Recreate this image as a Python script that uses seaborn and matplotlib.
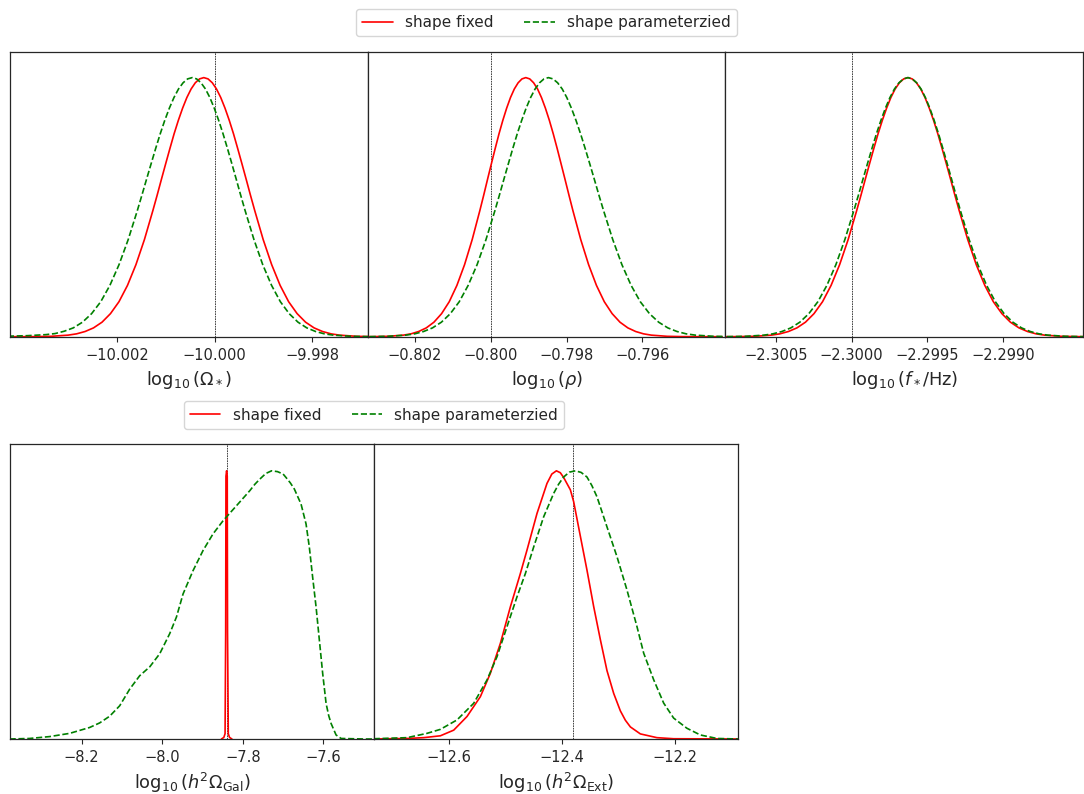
import matplotlib
matplotlib.use('Agg')
import matplotlib.pyplot as plt
import seaborn as sns

# ---- data (1D marginals, normalised to peak = 1) ----
omega_x_fixed = [-10.004564, -10.004043, -10.003696, -10.003349, -10.003002, -10.002828,
                 -10.002654, -10.002481, -10.002307, -10.002134, -10.001960, -10.001786,
                 -10.001613, -10.001439, -10.001266, -10.001179, -10.001092, -10.001005,
                 -10.000918, -10.000832, -10.000745, -10.000658, -10.000571, -10.000484,
                 -10.000398, -10.000311, -10.000224, -10.000137, -10.000050, -9.999964,
                 -9.999877, -9.999790, -9.999703, -9.999616, -9.999530, -9.999443,
                 -9.999356, -9.999269, -9.999182, -9.999009, -9.998835, -9.998662,
                 -9.998488, -9.998314, -9.998141, -9.997967, -9.997794, -9.997620,
                 -9.997446, -9.997099, -9.996752, -9.996405, -9.995884]
omega_fixed = [0.0, 0.0001, 0.0003, 0.0015, 0.006, 0.011, 0.020, 0.034, 0.056, 0.089,
               0.135, 0.198, 0.278, 0.375, 0.487, 0.546, 0.607, 0.667, 0.726, 0.783,
               0.835, 0.882, 0.923, 0.956, 0.980, 0.995, 1.0, 0.995, 0.980, 0.956,
               0.923, 0.882, 0.835, 0.783, 0.726, 0.667, 0.607, 0.546, 0.487, 0.375,
               0.278, 0.198, 0.135, 0.089, 0.056, 0.034, 0.020, 0.011, 0.006, 0.0015,
               0.0003, 0.0001, 0.0]
omega_x_param = [-10.005141, -10.004579, -10.004205, -10.003831, -10.003456, -10.003269,
                 -10.003082, -10.002895, -10.002707, -10.002520, -10.002333, -10.002146,
                 -10.001959, -10.001771, -10.001584, -10.001491, -10.001397, -10.001303,
                 -10.001210, -10.001116, -10.001023, -10.000929, -10.000835, -10.000742,
                 -10.000648, -10.000555, -10.000461, -10.000371, -10.000281, -10.000190,
                 -10.000100, -10.000010, -9.999920, -9.999830, -9.999739, -9.999649,
                 -9.999559, -9.999469, -9.999379, -9.999198, -9.999018, -9.998837,
                 -9.998657, -9.998477, -9.998296, -9.998116, -9.997935, -9.997755,
                 -9.997575, -9.997214, -9.996853, -9.996492, -9.995951]
omega_param = [0.001, 0.001, 0.002, 0.004, 0.008, 0.012, 0.021, 0.034, 0.056, 0.089,
               0.135, 0.198, 0.278, 0.375, 0.487, 0.546, 0.607, 0.667, 0.726, 0.783,
               0.835, 0.882, 0.923, 0.956, 0.980, 0.995, 1.0, 0.995, 0.980, 0.956,
               0.923, 0.882, 0.835, 0.783, 0.726, 0.667, 0.607, 0.546, 0.487, 0.375,
               0.278, 0.198, 0.135, 0.089, 0.056, 0.034, 0.020, 0.011, 0.006, 0.0015,
               0.0003, 0.0001, 0.0]

rho_x_fixed = [-0.804128, -0.803522, -0.803118, -0.802714, -0.802310, -0.802108,
               -0.801906, -0.801704, -0.801502, -0.801300, -0.801098, -0.800896,
               -0.800694, -0.800492, -0.800290, -0.800189, -0.800088, -0.799987,
               -0.799886, -0.799785, -0.799684, -0.799583, -0.799482, -0.799381,
               -0.799280, -0.799179, -0.799078, -0.798974, -0.798871, -0.798767,
               -0.798664, -0.798560, -0.798456, -0.798353, -0.798249, -0.798146,
               -0.798042, -0.797938, -0.797835, -0.797628, -0.797420, -0.797213,
               -0.797006, -0.796799, -0.796592, -0.796384, -0.796177, -0.795970,
               -0.795763, -0.795348, -0.794934, -0.794520, -0.793898]
rho_fixed = [0.0, 0.0001, 0.0003, 0.0015, 0.006, 0.011, 0.020, 0.034, 0.056, 0.089,
             0.135, 0.198, 0.278, 0.375, 0.487, 0.546, 0.607, 0.667, 0.726, 0.783,
             0.835, 0.882, 0.923, 0.956, 0.980, 0.995, 1.0, 0.995, 0.980, 0.956,
             0.923, 0.882, 0.835, 0.783, 0.726, 0.667, 0.607, 0.546, 0.487, 0.375,
             0.278, 0.198, 0.135, 0.089, 0.056, 0.034, 0.020, 0.011, 0.006, 0.0015,
             0.0003, 0.0001, 0.0]
rho_x_param = [-0.804365, -0.803659, -0.803188, -0.802717, -0.802246, -0.802011,
               -0.801776, -0.801540, -0.801305, -0.801069, -0.800834, -0.800599,
               -0.800363, -0.800128, -0.799892, -0.799775, -0.799657, -0.799539,
               -0.799422, -0.799304, -0.799186, -0.799069, -0.798951, -0.798833,
               -0.798715, -0.798598, -0.798480, -0.798359, -0.798238, -0.798116,
               -0.797995, -0.797874, -0.797753, -0.797632, -0.797510, -0.797389,
               -0.797268, -0.797147, -0.797026, -0.796783, -0.796541, -0.796298,
               -0.796056, -0.795814, -0.795571, -0.795329, -0.795086, -0.794844,
               -0.794602, -0.794117, -0.793632, -0.793147, -0.792420]
rho_param = [0.0, 0.0001, 0.0003, 0.0015, 0.006, 0.011, 0.020, 0.034, 0.056, 0.089,
             0.135, 0.198, 0.278, 0.375, 0.487, 0.546, 0.607, 0.667, 0.726, 0.783,
             0.835, 0.882, 0.923, 0.956, 0.980, 0.995, 1.0, 0.995, 0.980, 0.956,
             0.923, 0.882, 0.835, 0.783, 0.726, 0.667, 0.607, 0.546, 0.487, 0.375,
             0.278, 0.198, 0.135, 0.089, 0.056, 0.034, 0.020, 0.011, 0.006, 0.0015,
             0.0003, 0.0001, 0.0]

fstar_x_fixed = [-2.3010355, -2.3008666, -2.300754, -2.3006414, -2.3005288, -2.3004725,
                 -2.3004162, -2.3003599, -2.3003036, -2.3002473, -2.300191, -2.3001347,
                 -2.3000784, -2.3000221, -2.2999658, -2.2999377, -2.2999095, -2.2998814,
                 -2.2998532, -2.2998251, -2.2997969, -2.2997688, -2.2997406, -2.2997125,
                 -2.2996843, -2.2996562, -2.299628, -2.2995999, -2.2995717, -2.2995436,
                 -2.2995154, -2.2994873, -2.2994591, -2.299431, -2.2994028, -2.2993747,
                 -2.2993465, -2.2993184, -2.2992902, -2.2992339, -2.2991776, -2.2991213,
                 -2.299065, -2.2990087, -2.2989524, -2.2988961, -2.2988398, -2.2987835,
                 -2.2987272, -2.2986146, -2.298502, -2.2983894, -2.2982205]
fstar_fixed = [0.0, 0.0001, 0.0003, 0.0015, 0.006, 0.011, 0.020, 0.034, 0.056, 0.089,
               0.135, 0.198, 0.278, 0.375, 0.487, 0.546, 0.607, 0.667, 0.726, 0.783,
               0.835, 0.882, 0.923, 0.956, 0.980, 0.995, 1.0, 0.995, 0.980, 0.956,
               0.923, 0.882, 0.835, 0.783, 0.726, 0.667, 0.607, 0.546, 0.487, 0.375,
               0.278, 0.198, 0.135, 0.089, 0.056, 0.034, 0.020, 0.011, 0.006, 0.0015,
               0.0003, 0.0001, 0.0]
fstar_x_param = [-2.3011125, -2.3009344, -2.3008156, -2.3006968, -2.3005781, -2.3005187,
                 -2.3004593, -2.3003999, -2.3003406, -2.3002812, -2.3002218, -2.3001624,
                 -2.300103, -2.3000437, -2.2999843, -2.2999546, -2.2999249, -2.2998952,
                 -2.2998655, -2.2998358, -2.2998061, -2.2997765, -2.2997468, -2.2997171,
                 -2.2996874, -2.2996577, -2.299628, -2.2995992, -2.2995704, -2.2995416,
                 -2.2995128, -2.2994839, -2.2994551, -2.2994263, -2.2993975, -2.2993687,
                 -2.2993399, -2.2993111, -2.2992823, -2.2992247, -2.299167, -2.2991094,
                 -2.2990518, -2.2989942, -2.2989366, -2.2988789, -2.2988213, -2.2987637,
                 -2.2987061, -2.2985908, -2.2984756, -2.2983604, -2.2981875]
fstar_param = [0.0, 0.0001, 0.0003, 0.0015, 0.006, 0.011, 0.020, 0.034, 0.056, 0.089,
               0.135, 0.198, 0.278, 0.375, 0.487, 0.546, 0.607, 0.667, 0.726, 0.783,
               0.835, 0.882, 0.923, 0.956, 0.980, 0.995, 1.0, 0.995, 0.980, 0.956,
               0.923, 0.882, 0.835, 0.783, 0.726, 0.667, 0.607, 0.546, 0.487, 0.375,
               0.278, 0.198, 0.135, 0.089, 0.056, 0.034, 0.020, 0.011, 0.006, 0.0015,
               0.0003, 0.0001, 0.0]

gal_x_fixed = [-7.853, -7.847, -7.844, -7.8425, -7.8418, -7.8402, -7.8386, -7.8379,
               -7.836, -7.833, -7.827]
gal_fixed = [0.0, 0.006, 0.02, 0.4, 0.98, 1.0, 0.98, 0.4, 0.02, 0.006, 0.0]
gal_x_param = [-8.3786, -8.3289, -8.2793, -8.2296, -8.1799, -8.1551, -8.1303, -8.1054,
               -8.0806, -8.0558, -8.0309, -8.0061, -7.9813, -7.9646, -7.9482, -7.9234,
               -7.8986, -7.8738, -7.8489, -7.8156, -7.7826, -7.7700, -7.7578, -7.7430,
               -7.7287, -7.7140, -7.7000, -7.6927, -7.6821, -7.6721, -7.6555, -7.6431,
               -7.6349, -7.6267, -7.6182, -7.6100, -7.6018, -7.5934, -7.5870, -7.5810,
               -7.5686, -7.5561, -7.4983, -7.4722]
gal_param = [0.0, 0.002, 0.009, 0.021, 0.043, 0.060, 0.085, 0.124, 0.186, 0.236,
             0.269, 0.318, 0.393, 0.455, 0.541, 0.628, 0.703, 0.765, 0.814, 0.870,
             0.926, 0.950, 0.969, 0.990, 1.000, 0.997, 0.988, 0.975, 0.955, 0.932,
             0.876, 0.802, 0.715, 0.603, 0.492, 0.368, 0.244, 0.133, 0.088, 0.058,
             0.015, 0.002, 0.0, 0.0]

ext_x_fixed = [-12.7339, -12.6748, -12.6452, -12.6156, -12.5920, -12.5684, -12.5447,
               -12.5270, -12.5092, -12.4915, -12.4738, -12.4621, -12.4443, -12.4266,
               -12.4180, -12.4099, -12.4030, -12.3970, -12.3851, -12.3793, -12.3674,
               -12.3557, -12.3438, -12.3319, -12.3202, -12.3083, -12.2965, -12.2876,
               -12.2787, -12.2610, -12.2316, -12.2020, -12.0867]
ext_fixed = [0.0, 0.002, 0.005, 0.012, 0.033, 0.084, 0.158, 0.245, 0.357, 0.493,
             0.617, 0.704, 0.841, 0.953, 0.988, 1.000, 0.993, 0.975, 0.929, 0.885,
             0.756, 0.630, 0.494, 0.370, 0.255, 0.170, 0.105, 0.070, 0.045, 0.019,
             0.005, 0.001, 0.0]
ext_x_param = [-12.7339, -12.6748, -12.6394, -12.6156, -12.5862, -12.5566, -12.5330,
               -12.5152, -12.4975, -12.4798, -12.4649, -12.4502, -12.4324, -12.4147,
               -12.4060, -12.3970, -12.3870, -12.3762, -12.3660, -12.3557, -12.3470,
               -12.3379, -12.3202, -12.3025, -12.2848, -12.2670, -12.2551, -12.2374,
               -12.2197, -12.2020, -12.1784, -12.1546, -12.1252, -12.0867]
ext_param = [0.001, 0.005, 0.021, 0.036, 0.071, 0.133, 0.220, 0.307, 0.419, 0.530,
             0.617, 0.716, 0.829, 0.916, 0.950, 0.977, 0.995, 1.000, 0.994, 0.977,
             0.945, 0.903, 0.791, 0.680, 0.556, 0.419, 0.320, 0.221, 0.134, 0.078,
             0.040, 0.015, 0.002, 0.0]

labels = [r'$\log_{10}(\Omega_*)$', r'$\log_{10}(\rho)$', r'$\log_{10}(f_*/{\rm Hz})$',
          r'$\log_{10}(h^2\Omega_{\rm Gal})$', r'$\log_{10}(h^2\Omega_{\rm Ext})$']
truths = [-10.0, -0.8, -2.3, -7.84, -12.38]
xlims = [(-10.00419, -9.99687), (-0.80325, -0.79381), (-2.300832, -2.298474),
         (-8.3776, -7.474), (-12.733, -12.0875)]
ticks = [[-10.002, -10.000, -9.998], [-0.802, -0.800, -0.798, -0.796],
         [-2.3005, -2.3000, -2.2995, -2.2990], [-8.2, -8.0, -7.8, -7.6],
         [-12.6, -12.4, -12.2]]
tick_fmt = ['{:.3f}', '{:.3f}', '{:.4f}', '{:.1f}', '{:.1f}']

curves = [
    (omega_x_fixed, omega_fixed, omega_x_param, omega_param),
    (rho_x_fixed, rho_fixed, rho_x_param, rho_param),
    (fstar_x_fixed, fstar_fixed, fstar_x_param, fstar_param),
    (gal_x_fixed, gal_fixed, gal_x_param, gal_param),
    (ext_x_fixed, ext_fixed, ext_x_param, ext_param),
]

sns.set_style('ticks')
plt.rcParams['font.family'] = 'DejaVu Sans'
plt.rcParams['mathtext.fontset'] = 'dejavusans'

fig = plt.figure(figsize=(10.84, 7.94), dpi=100)
W, H = 1084.0, 794.0
# panel boxes in pixels: left, top, width, height
boxes = [
    (10, 51.7, 357.7, 285), (367.7, 51.7, 357.7, 285), (725.3, 51.7, 357.7, 285),
    (10, 444, 364.2, 295), (374.2, 444, 364.0, 295),
]
axes = []
for (x0, y0, w, h) in boxes:
    axes.append(fig.add_axes([x0 / W, 1 - (y0 + h) / H, w / W, h / H]))

for i, ax in enumerate(axes):
    xf, yf, xp, yp = curves[i]
    sns.lineplot(x=xf, y=yf, ax=ax, color='red', lw=1.2, errorbar=None,
                 label='shape fixed')
    sns.lineplot(x=xp, y=yp, ax=ax, color='green', lw=1.2, linestyle='--',
                 errorbar=None, label='shape parameterzied')
    ax.axvline(truths[i], color='k', ls=(0, (2, 1)), lw=0.6, alpha=0.85, zorder=0)
    ax.set_xlim(*xlims[i])
    ax.set_ylim(0, 1.1)
    ax.set_yticks([])
    ax.set_ylabel('')
    ax.set_xticks(ticks[i])
    ax.set_xticklabels([tick_fmt[i].format(t).replace('-', '\u2212') for t in ticks[i]],
                       fontsize=10.5)
    ax.set_xlabel(labels[i], fontsize=12.8, labelpad=4.5)
    ax.tick_params(axis='x', length=3.5, width=0.8, pad=4.5)
    for s in ax.spines.values():
        s.set_linewidth(0.9)
        s.set_color('0.15')
    ax.get_legend().remove()

h, l = axes[0].get_legend_handles_labels()
fig.legend(h, l, loc='center', bbox_to_anchor=(546.5 / W, 1 - 22.5 / H), ncol=2,
           fontsize=11, frameon=True)
h, l = axes[3].get_legend_handles_labels()
fig.legend(h, l, loc='center', bbox_to_anchor=(374 / W, 1 - 415 / H), ncol=2,
           fontsize=11, frameon=True)

fig.savefig('out.png', dpi=100)
